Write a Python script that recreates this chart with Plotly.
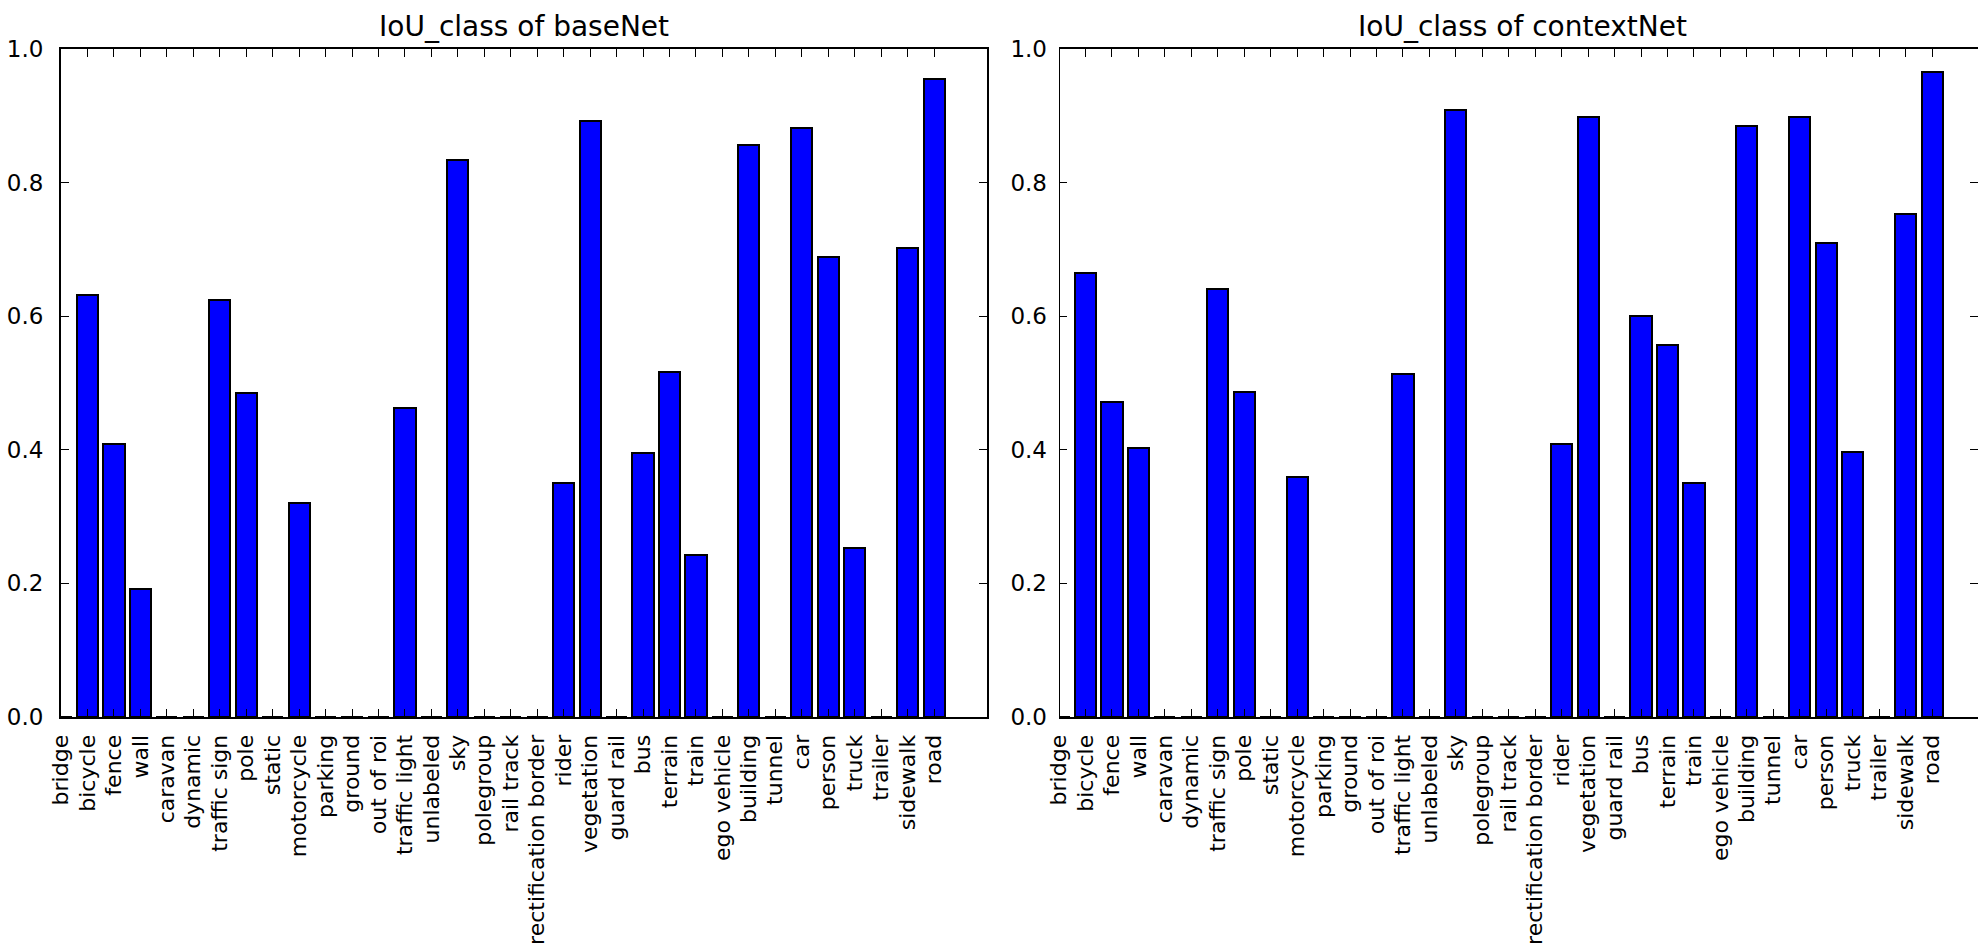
import plotly.graph_objects as go

# Cityscapes label names, in plotting order
classes = ["bridge", "bicycle", "fence", "wall", "caravan", "dynamic", "traffic sign",
           "pole", "static", "motorcycle", "parking", "ground", "out of roi",
           "traffic light", "unlabeled", "sky", "polegroup", "rail track",
           "rectification border", "rider", "vegetation", "guard rail", "bus",
           "terrain", "train", "ego vehicle", "building", "tunnel", "car", "person",
           "truck", "trailer", "sidewalk", "road"]

# per-class IoU
iou_basenet = [0.0, 0.631, 0.408, 0.191, 0.0, 0.0, 0.624, 0.485, 0.0, 0.320,
               0.0, 0.0, 0.0, 0.462, 0.0, 0.834, 0.0, 0.0, 0.0, 0.350, 0.892,
               0.0, 0.395, 0.516, 0.242, 0.0, 0.857, 0.0, 0.881, 0.688, 0.253,
               0.0, 0.702, 0.955]
iou_contextnet = [0.0, 0.664, 0.472, 0.402, 0.0, 0.0, 0.640, 0.487, 0.0, 0.360,
                  0.0, 0.0, 0.0, 0.513, 0.0, 0.908, 0.0, 0.0, 0.0, 0.408, 0.898,
                  0.0, 0.600, 0.557, 0.351, 0.0, 0.885, 0.0, 0.898, 0.709, 0.396,
                  0.0, 0.753, 0.966]

titles = ["IoU_class of baseNet", "IoU_class of contextNet"]

W, H = 1978, 944
FONT = "DejaVu Sans"
positions = list(range(len(classes)))

fig = go.Figure()
for i, vals in enumerate([iou_basenet, iou_contextnet]):
    sfx = "" if i == 0 else "2"
    fig.add_trace(go.Bar(
        x=positions, y=vals, width=0.8,
        marker=dict(color="#0000ff", line=dict(color="black", width=2)),
        xaxis="x" + sfx, yaxis="y" + sfx, showlegend=False,
    ))

ydom = [(H - 717) / H, (H - 49) / H]
pitch = 926 / 35.0

common_x = dict(
    tickmode="array", tickvals=positions, ticktext=classes, tickangle=-90,
    ticks="inside", ticklen=8, tickwidth=1, tickcolor="black",
    showline=True, linecolor="black", linewidth=2, mirror="ticks",
    showgrid=False, zeroline=False, automargin=False,
    tickfont=dict(family=FONT, size=22, color="black"), ticklabelstandoff=7,
)
common_y = dict(
    range=[0, 1], tick0=0, dtick=0.2, tickformat=".1f",
    ticks="inside", ticklen=8, tickwidth=1, tickcolor="black",
    linecolor="black", linewidth=2, mirror="ticks",
    showgrid=False, zeroline=False, automargin=False,
    tickfont=dict(family=FONT, size=23, color="black"), ticklabelstandoff=11,
)

fig.update_layout(
    width=W, height=H,
    margin=dict(l=0, r=0, t=0, b=0),
    paper_bgcolor="white", plot_bgcolor="white",
    font=dict(family=FONT, size=23, color="black"),
    bargap=0,
    xaxis=dict(domain=[61 / W, 987 / W], range=[0, 35], anchor="y", **common_x),
    yaxis=dict(domain=ydom, anchor="x", showline=True, **common_y),
    xaxis2=dict(domain=[1059 / W, 1.0], range=[0, (W - 1059) / pitch], anchor="y2", **common_x),
    yaxis2=dict(domain=ydom, anchor="x2", showline=False, **common_y),
)

# left spine of the second panel (its right spine falls past the page edge)
fig.add_shape(type="line", xref="x2", yref="y2 domain", x0=0, x1=0, y0=0, y1=1,
              line=dict(color="black", width=2), layer="above")

# panel titles
for cx, t in zip([524, 1522], titles):
    fig.add_annotation(text=t, x=cx / W, y=1 - 26 / H, xref="paper", yref="paper",
                       xanchor="center", yanchor="middle", showarrow=False,
                       font=dict(family=FONT, size=28, color="black"))

fig.write_html("out.html")
